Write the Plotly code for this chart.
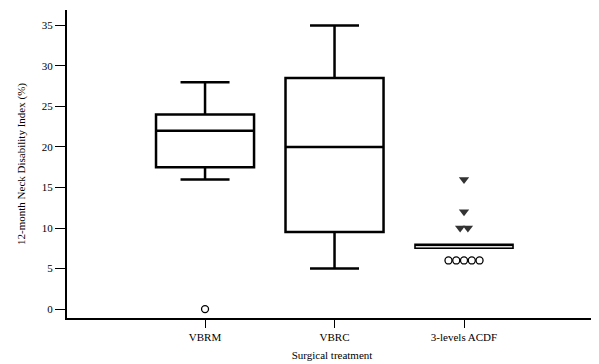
import plotly.graph_objects as go
from collections import Counter

categories = ["VBRM", "VBRC", "3-levels ACDF"]
q1 = [17.5, 9.5, 7.5]
median = [22, 20, 8]
q3 = [24, 28.5, 8]
lower_fence = [16, 5, 7.5]
upper_fence = [28, 35, 8]
outliers = {"VBRM": [0], "VBRC": [], "3-levels ACDF": [6, 6, 6, 6, 6]}
extremes = {"VBRM": [], "VBRC": [], "3-levels ACDF": [16, 12, 10, 10]}

font_family = "Liberation Serif, Times New Roman, serif"
SPREAD = 0.06  # horizontal spacing between coincident points (category units)


def spread_points(idx, values):
    xs, ys = [], []
    counts = Counter(values)
    seen = Counter()
    for v in values:
        n = counts[v]
        k = seen[v]
        seen[v] += 1
        xs.append(idx + (k - (n - 1) / 2) * SPREAD)
        ys.append(v)
    return xs, ys


fig = go.Figure()
for i, c in enumerate(categories):
    fig.add_trace(go.Box(
        x=[i], q1=[q1[i]], median=[median[i]], q3=[q3[i]],
        lowerfence=[lower_fence[i]], upperfence=[upper_fence[i]],
        width=0.757, whiskerwidth=0.5,
        fillcolor="white" if i < 2 else "#dddddd",
        line=dict(color="black", width=2.5 if i < 2 else 1.6),
        boxpoints=False, showlegend=False, hoverinfo="skip",
    ))

ox, oy, ex, ey = [], [], [], []
for i, c in enumerate(categories):
    xs, ys = spread_points(i, outliers[c])
    ox += xs; oy += ys
    xs, ys = spread_points(i, extremes[c])
    ex += xs; ey += ys

fig.add_trace(go.Scatter(
    x=ox, y=oy, mode="markers", showlegend=False, hoverinfo="skip",
    marker=dict(symbol="circle-open", size=7, color="black", line=dict(width=1.3)),
))
fig.add_trace(go.Scatter(
    x=ex, y=ey, mode="markers", showlegend=False, hoverinfo="skip",
    marker=dict(symbol="triangle-down", size=9, color="#333333"),
))

# page body has an 8px default margin, so the figure is sized/offset to compensate
fig.update_layout(
    width=591, height=356,
    margin=dict(l=59, r=2, t=2, b=46),
    plot_bgcolor="white", paper_bgcolor="white",
    font=dict(family=font_family, size=11, color="black"),
    showlegend=False,
)
fig.update_xaxes(
    range=[-1.066, 3.027], tickmode="array", tickvals=list(range(len(categories))),
    ticktext=categories, showline=True, linecolor="black", linewidth=2,
    ticks="outside", ticklen=8, tickwidth=1.3, tickcolor="black",
    showgrid=False, zeroline=False, automargin=False,
    title=dict(text="Surgical treatment", font=dict(size=11), standoff=9),
)
fig.update_yaxes(
    range=[-1.1, 36.9], tickmode="array", tickvals=[0, 5, 10, 15, 20, 25, 30, 35],
    showline=True, linecolor="black", linewidth=2,
    ticks="outside", ticklen=10, tickwidth=1.3, tickcolor="black",
    showgrid=False, zeroline=False, automargin=False,
    title=dict(text="12-month Neck Disability Index (%)", font=dict(size=11), standoff=14),
)

fig.write_html("out.html")
